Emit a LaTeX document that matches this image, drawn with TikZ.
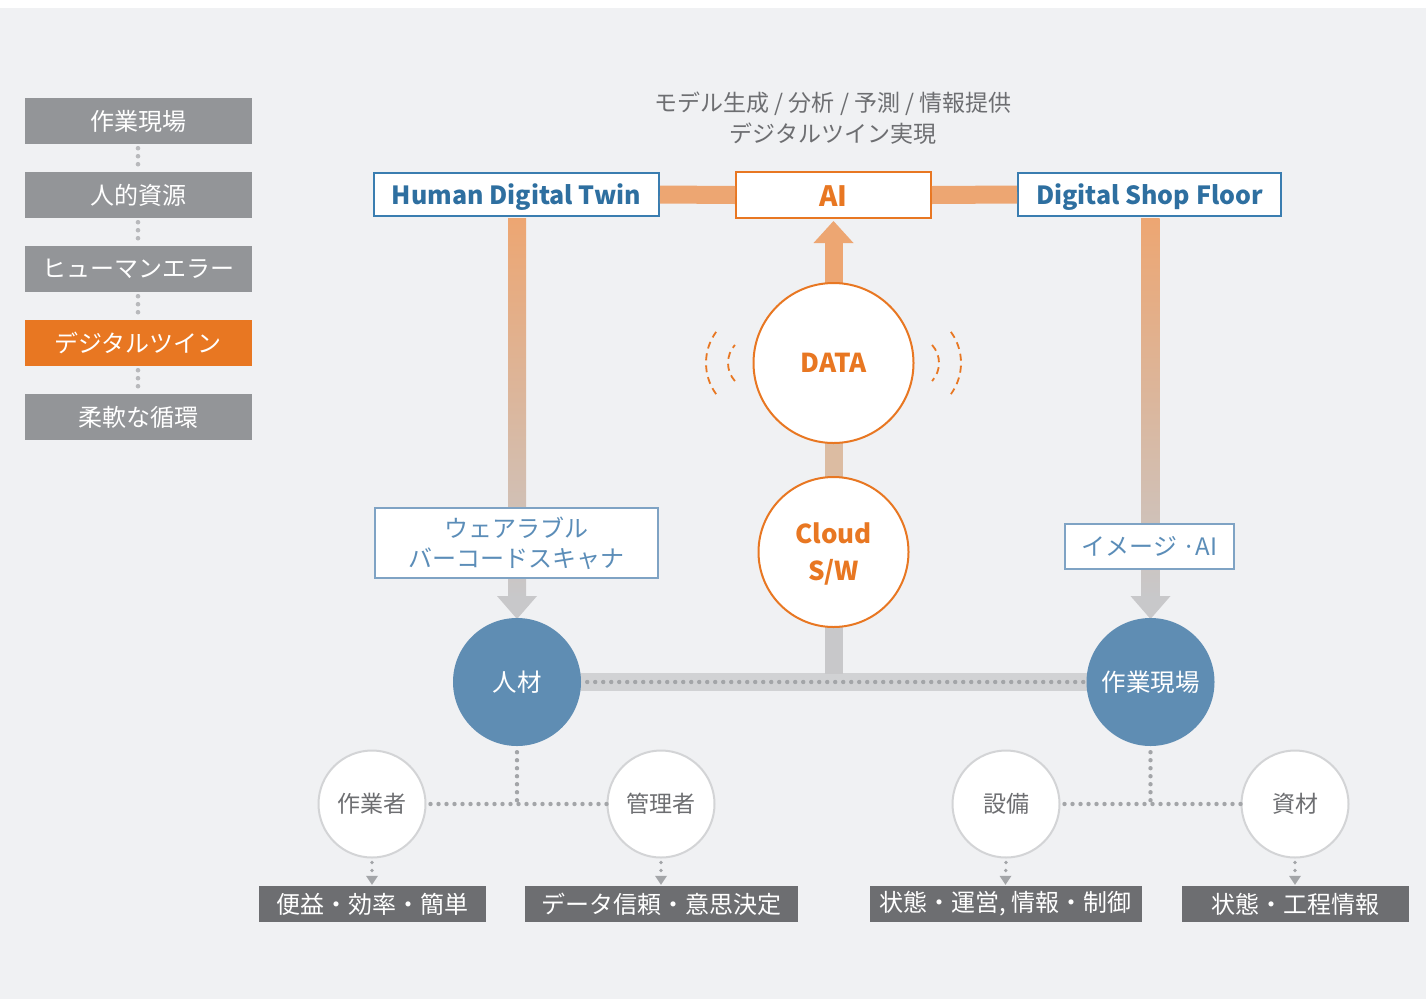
\documentclass[tikz,border=0pt]{standalone}
\usepackage{fontspec}
\setmainfont{Noto Sans CJK JP}
\usetikzlibrary{calc,arrows.meta}
\definecolor{bg}{HTML}{F0F1F3}
\definecolor{side}{HTML}{939598}
\definecolor{orng}{HTML}{E87722}
\definecolor{obar}{HTML}{EDA672}
\definecolor{tan}{HTML}{DCBCA2}
\definecolor{gbar}{HTML}{C8C8CA}
\definecolor{hbar}{HTML}{D1D2D4}
\definecolor{blu}{HTML}{2E6FA0}
\definecolor{bluborder}{HTML}{3A7DB0}
\definecolor{lblu}{HTML}{5B8DB8}
\definecolor{lbluborder}{HTML}{7FA3C4}
\definecolor{circ}{HTML}{5F8DB3}
\definecolor{dlab}{HTML}{6D6E71}
\definecolor{capt}{HTML}{6D6E71}
\definecolor{dotc}{HTML}{A3A5A8}
\definecolor{sdotc}{HTML}{B8B9BC}
\definecolor{wcb}{HTML}{D3D4D6}
\definecolor{wtext}{HTML}{6D6E71}
\begin{document}
\begin{tikzpicture}[x=1pt,y=-1pt,
  sidebox/.style={fill=side,text=white,minimum width=227pt,minimum height=46pt,inner sep=0pt,font=\fontsize{24}{28}\selectfont},
  hibox/.style={sidebox,fill=orng},
  topbox/.style={draw=bluborder,line width=2pt,fill=white,text=blu,inner sep=0pt,font=\fontsize{25}{30}\selectfont\bfseries},
  aibox/.style={draw=orng,line width=2pt,fill=white,text=orng,inner sep=0pt,font=\fontsize{28}{32}\selectfont\bfseries},
  devbox/.style={draw=lbluborder,line width=1.5pt,fill=white,text=lblu,inner sep=0pt,align=center,font=\fontsize{24}{30}\selectfont},
  ocirc/.style={circle,draw=orng,line width=2pt,fill=white,text=orng,inner sep=0pt,align=center,font=\fontsize{26}{37}\selectfont\bfseries},
  otext/.style={text=orng,inner sep=0pt,align=center,font=\fontsize{26}{37}\selectfont\bfseries},
  bcirc/.style={circle,fill=circ,text=white,inner sep=0pt,minimum size=128pt,font=\fontsize{24.5}{28}\selectfont},
  wcirc/.style={circle,draw=wcb,line width=2pt,fill=white,text=wtext,inner sep=0pt,minimum size=107pt,font=\fontsize{23}{28}\selectfont},
  lab/.style={fill=dlab,text=white,inner sep=0pt,minimum height=36pt,font=\fontsize{24}{28}\selectfont},
  obarline/.style={draw=obar,line width=18pt},
  dots/.style={draw=dotc,line width=4.4pt,line cap=round,dash pattern=on 0pt off 8pt},
  sdots/.style={draw=sdotc,line width=4.6pt,line cap=round,dash pattern=on 0pt off 8pt},
  darc/.style={draw=orng,line width=1.8pt,dash pattern=on 7pt off 5pt},
  downarrow/.style={fill=gbar}
]
\useasboundingbox (0,0) rectangle (1426,999);
\fill[white] (0,0) rectangle (1426,999);
\fill[bg] (0,8) rectangle (1426,999);

% sidebar
\node[sidebox] (s1) at (138,121) {作業現場};
\node[sidebox] (s2) at (138,195) {人的資源};
\node[sidebox] (s3) at (138,269) {ヒューマンエラー};
\node[hibox]   (s4) at (138,343) {デジタルツイン};
\node[sidebox] (s5) at (138,417) {柔軟な循環};
\foreach \a/\b in {s1/s2,s2/s3,s3/s4,s4/s5}
  \draw[sdots] ($(\a.south)+(0,4)$) -- (\b.north);

% caption
\node[text=capt,align=center,font=\fontsize{23}{31}\selectfont] (cap) at (833,118) {モデル生成 / 分析 / 予測 / 情報提供\\デジタルツイン実現};

% top boxes
\node[topbox,minimum width=285pt,minimum height=43pt] (hdt) at (516.5,194.5) {};
\node[aibox,minimum width=195pt,minimum height=46pt] (ai) at (833.5,195) {};
\node[topbox,minimum width=263pt,minimum height=43pt] (dsf) at (1149.5,194.5) {};
\node[text=blu,font=\fontsize{25}{30}\selectfont\bfseries,yshift=-3pt] (hdtt) at (hdt) {Human Digital Twin};
\node[text=orng,font=\fontsize{28}{32}\selectfont\bfseries,yshift=-1.5pt] (ait) at (ai) {AI};
\node[text=blu,font=\fontsize{25}{30}\selectfont\bfseries,yshift=-3pt] (dsft) at (dsf) {Digital Shop Floor};
\draw[obarline] (hdt.east) -- (ai.west);
\draw[obarline] (ai.east) -- (dsf.west);

% circles coordinates
\coordinate (renc) at (517,682);
\coordinate (genc) at (1150.5,682);

% side vertical gradient bars
\shade[top color=obar,bottom color=gbar] ($(hdt.south)+(-8.5,1)$) rectangle (526,598);
\fill[downarrow] (497,596) -- (537,596) -- (517,619) -- cycle;
\shade[top color=obar,bottom color=gbar] ($(dsf.south)+(-8.5,1)$) rectangle (1159.5,598);
\fill[downarrow] (1130.5,596) -- (1170.5,596) -- (1150.5,619) -- cycle;

% horizontal bar
\draw[hbar,line width=18pt] (renc) -- (genc);

% center column
\coordinate (datac) at (833.5,363);
\coordinate (cloudc) at (833.5,552);
\fill[obar] (824.5,242) rectangle (842.5,290);
\fill[obar] (813.5,243) -- (853.5,243) -- (833.5,221) -- cycle;
\fill[tan] (824.5,430) rectangle (842.5,490);
\fill[gbar] (824.5,610) rectangle (842.5,674);
\node[ocirc,minimum size=160pt] (data) at (datac) {DATA};
\node[ocirc,minimum size=150pt] (cloud) at (cloudc) {};
\node[otext,yshift=-2pt] (cloudt) at (cloudc) {Cloud\\S/W};

% signal arcs
\draw[darc] (data.center) ++(-78.5,0) ++(138:27) arc[start angle=138,end angle=222,radius=27];
\draw[darc] (data.center) ++(-74.5,0) ++(144:53) arc[start angle=144,end angle=216,radius=53];
\draw[darc] (data.center) ++(78.5,0) ++(-42:27) arc[start angle=-42,end angle=42,radius=27];
\draw[darc] (data.center) ++(74.5,0) ++(-36:53) arc[start angle=-36,end angle=36,radius=53];

% device boxes
\node[devbox,minimum width=283pt,minimum height=70pt] (dev1) at (516.5,543) {ウェアラブル\\バーコードスキャナ};
\node[devbox,minimum width=169pt,minimum height=45pt] (dev2) at (1149.5,546.5) {イメージ ·AI};

% main circles
\node[bcirc] (ren) at (renc) {人材};
\node[bcirc] (gen) at (genc) {作業現場};
\draw[dots] ($(ren.east)+(6,0)$) -- (gen.west);

% sub circles
\node[wcirc] (w1) at (372,804) {作業者};
\node[wcirc] (w2) at (661,804) {管理者};
\node[wcirc] (w3) at (1006,804) {設備};
\node[wcirc] (w4) at (1295,804) {資材};
\coordinate (j1) at (517,804);
\coordinate (j2) at (1150.5,804);
\draw[dots] ($(ren.south)+(0,6)$) -- (j1);
\draw[dots] ($(w1.east)+(4,0)$) -- (w2.west);
\draw[dots] ($(gen.south)+(0,6)$) -- (j2);
\draw[dots] ($(w3.east)+(4,0)$) -- (w4.west);

% labels
\node[lab,minimum width=227pt] (l1) at (372,904) {便益・効率・簡単};
\node[lab,minimum width=273pt] (l2) at (661,904) {データ信頼・意思決定};
\node[lab,minimum width=272pt] (l3) at (1005.5,904) {状態・運営, 情報・制御};
\node[lab,minimum width=227pt] (l4) at (1295,904) {状態・工程情報};
\foreach \c/\l in {w1/l1,w2/l2,w3/l3,w4/l4}{
  \draw[dots,line width=3.6pt] ($(\c.south)+(0,4)$) -- ($(\l.north)+(0,-10)$);
  \fill[dotc] ($(\l.north)+(-6,-10)$) -- ($(\l.north)+(6,-10)$) -- ($(\l.north)+(0,-1)$) -- cycle;
}
\end{tikzpicture}
\end{document}
